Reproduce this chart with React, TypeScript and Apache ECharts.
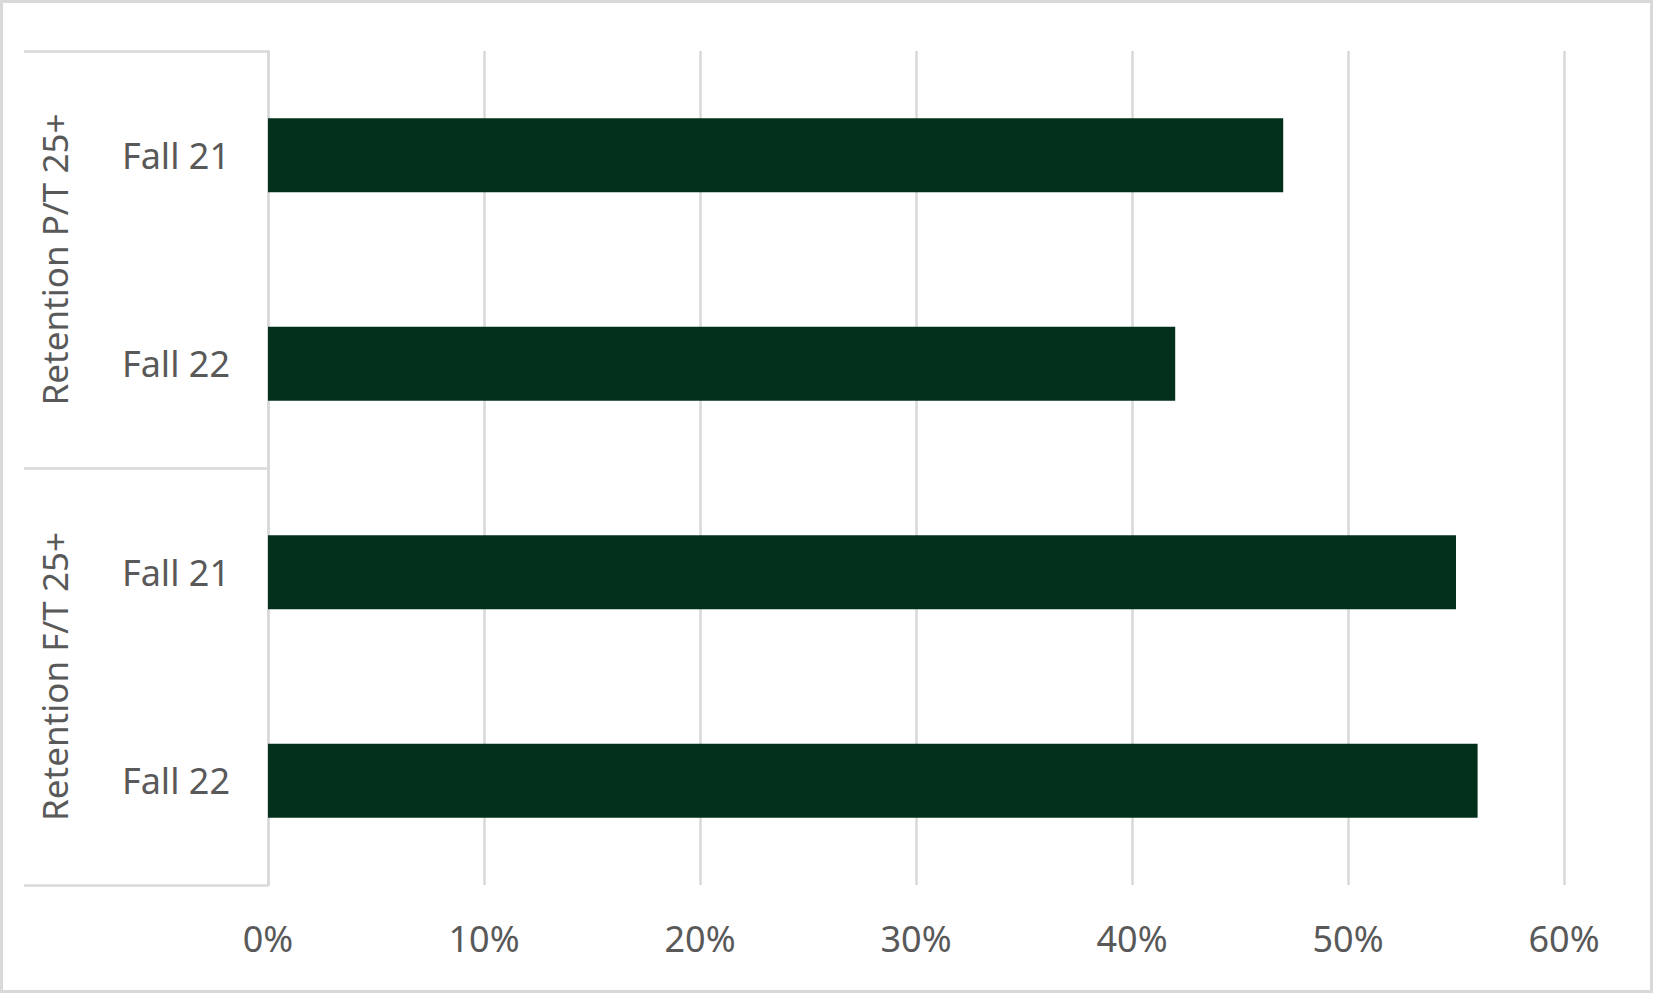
import { useEffect, useRef } from "react";
import * as echarts from "echarts";

const groups = ["Retention P/T 25+", "Retention F/T 25+"];
const terms = ["Fall 21", "Fall 22"];
const retention = [0.47, 0.42, 0.55, 0.56];
const xTicks = [0, 0.1, 0.2, 0.3, 0.4, 0.5, 0.6];

const textColor = "#595959";
const lineColor = "#d9d9d9";
const font = "'Noto Sans', sans-serif";

// one category per group/term pair, the term is shown after the "|"
const categories = groups.flatMap((g) => terms.map((t) => `${g}|${t}`));

export default function App() {
  const ref = useRef<HTMLDivElement | null>(null);

  useEffect(() => {
    document.body.style.margin = "0";
    if (!ref.current) return;
    const chart = echarts.init(ref.current, null, { renderer: "svg" });

    chart.setOption({
      animation: false,
      backgroundColor: "#fff",
      textStyle: { fontFamily: font },
      grid: { left: 268, right: 89, top: 51, bottom: 108 },
      xAxis: {
        type: "value",
        min: xTicks[0],
        max: xTicks[xTicks.length - 1],
        interval: 0.1,
        axisLine: { show: false },
        axisTick: { show: false },
        splitLine: { lineStyle: { color: lineColor, width: 2.5 } },
        axisLabel: {
          color: textColor,
          fontSize: 36,
          fontFamily: font,
          margin: 35,
          formatter: (v: number) => `${Math.round(v * 100)}%`,
        },
      },
      yAxis: [
        {
          type: "category",
          inverse: true,
          data: categories,
          axisLine: { show: true, lineStyle: { color: lineColor, width: 2.5 } },
          axisTick: { show: false },
          axisLabel: {
            color: textColor,
            fontSize: 36,
            fontFamily: font,
            margin: 38,
            formatter: (v: string) => v.split("|")[1],
          },
        },
        {
          type: "category",
          inverse: true,
          position: "left",
          data: groups,
          axisLine: { show: false },
          axisTick: {
            show: true,
            inside: false,
            length: 244,
            lineStyle: { color: lineColor, width: 2.5 },
          },
          axisLabel: {
            color: textColor,
            fontSize: 35,
            fontFamily: font,
            rotate: 90,
            margin: 196,
          },
        },
      ],
      series: [
        {
          type: "bar",
          yAxisIndex: 0,
          data: retention,
          barWidth: "35.4%",
          itemStyle: { color: "#03301b" },
        },
      ],
    });

    return () => chart.dispose();
  }, []);

  return (
    <div style={{ position: "relative", width: 1653, height: 993 }}>
      <div ref={ref} style={{ position: "absolute", left: 0, top: 0, width: 1653, height: 993 }} />
      <div
        style={{
          position: "absolute",
          inset: 0,
          border: `3px solid ${lineColor}`,
          boxSizing: "border-box",
          pointerEvents: "none",
        }}
      />
    </div>
  );
}
